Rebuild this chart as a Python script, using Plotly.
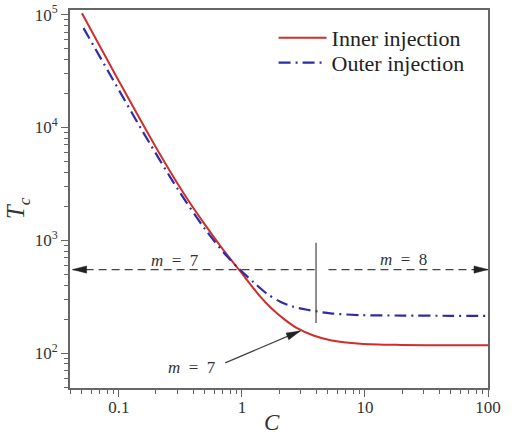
import math
import plotly.graph_objects as go

# ---------------- data ----------------
inner_C = [0.05, 0.1, 0.2, 0.35, 0.5, 0.7, 0.95, 1.41, 1.70, 2.2, 2.81, 3.81, 5.25, 9.2, 19.5, 50, 100]
inner_T = [103000, 25740, 6660, 2430, 1375, 830, 545, 316, 255, 200, 166, 143, 130, 121, 118, 117, 117]

outer_C = [0.0515, 0.1, 0.15, 0.3, 0.5, 0.75, 0.97, 1.24, 1.6, 2.05, 2.6, 3.39, 5.25, 9.2, 20, 50, 100]
outer_T = [76000, 21420, 9910, 2846, 1257, 727, 545, 425, 335, 285, 258, 242, 225, 217, 215, 214, 214]

# boundary between m = 7 and m = 8
boundary_T = 550
boundary_C_left = 0.042
boundary_gap = [3.96, 5.05]
boundary_C_right = 100
vline_C = 4.0
vline_T = [185, 950]

# arrow pointing to inner curve (m = 7)
arrow_tail = (0.731, 82)
arrow_tip = (2.98, 157)

# labels
label_m7_left = (0.286, 668)
label_m8 = (20.6, 682)
label_m7_low = (0.394, 75)

x_ticks = [0.1, 1, 10, 100]
x_ticktext = ["0.1", "1", "10", "100"]
y_ticks = [100, 1000, 10000, 100000]
y_ticktext = ["10<sup>2</sup>", "10<sup>3</sup>", "10<sup>4</sup>", "10<sup>5</sup>"]
x_minor = [m * 10 ** k for k in (-2, -1, 0, 1) for m in range(2, 10)]
y_minor = [m * 10 ** k for k in (1, 2, 3, 4) for m in range(2, 10)]

x_range = [math.log10(0.04), 2]
y_range = [math.log10(49), math.log10(110000)]

# ---------------- layout geometry / style ----------------
W, H = 514, 435
ML, MR, MT, MB = 70, 26, 10, 47
SERIF = "Liberation Serif, Times New Roman, serif"
RED = "rgb(208,45,45)"
BLUE = "rgb(45,45,165)"
DARK = "#444444"
AXIS = "#666666"
TXT = "#333333"

fig = go.Figure()

fig.add_trace(go.Scatter(
    x=inner_C, y=inner_T, mode="lines", name="Inner injection", legend="legend",
    line=dict(color=RED, width=2, shape="spline", smoothing=0.8)))
fig.add_trace(go.Scatter(
    x=outer_C, y=outer_T, mode="lines", name="Outer injection", legend="legend2",
    line=dict(color=BLUE, width=2.2, dash="12px,5px,2px,5px", shape="spline", smoothing=0.8)))

# dashed boundary line with a gap at the vertical marker
fig.add_trace(go.Scatter(
    x=[boundary_C_left, boundary_gap[0], None, boundary_gap[1], boundary_C_right],
    y=[boundary_T, boundary_T, None, boundary_T, boundary_T],
    mode="lines", showlegend=False, hoverinfo="skip",
    line=dict(color=DARK, width=1.3, dash="8px,5px")))
fig.add_trace(go.Scatter(
    x=[vline_C, vline_C], y=vline_T, mode="lines", showlegend=False, hoverinfo="skip",
    line=dict(color=DARK, width=1.2)))
fig.add_trace(go.Scatter(
    x=[arrow_tail[0], arrow_tip[0]], y=[arrow_tail[1], arrow_tip[1]],
    mode="lines", showlegend=False, hoverinfo="skip",
    line=dict(color=DARK, width=1.3)))

# arrow heads as pixel-sized paths anchored at data points
def head_path(angle, length=14, half=3.6):
    ca, sa = math.cos(angle), math.sin(angle)
    bx, by = -length * ca, -length * sa
    nx, ny = -sa * half, ca * half
    return f"M0,0 L{bx + nx:.2f},{by + ny:.2f} L{bx - nx:.2f},{by - ny:.2f} Z"

kx = (W - ML - MR) / (x_range[1] - x_range[0])
ky = (H - MT - MB) / (y_range[1] - y_range[0])
diag_angle = math.atan2((math.log10(arrow_tip[1]) - math.log10(arrow_tail[1])) * ky,
                        (math.log10(arrow_tip[0]) - math.log10(arrow_tail[0])) * kx)

heads = [
    (boundary_C_left, boundary_T, math.pi),
    (boundary_C_right, boundary_T, 0.0),
    (arrow_tip[0], arrow_tip[1], diag_angle),
]
for hx, hy, ang in heads:
    fig.add_shape(type="path", xref="x", yref="y", xsizemode="pixel", ysizemode="pixel",
                  xanchor=hx, yanchor=hy, path=head_path(ang),
                  fillcolor="#222222", line=dict(color="#222222", width=0.5))

def ann(pos, text):
    return dict(x=math.log10(pos[0]), y=math.log10(pos[1]), xref="x", yref="y",
                text=text, showarrow=False,
                font=dict(family=SERIF, size=17, color=TXT))

fig.update_layout(annotations=[
    ann(label_m7_left, "<i>m</i>  =  7"),
    ann(label_m8, "<i>m</i>  =  8"),
    ann(label_m7_low, "<i>m</i>  =  7"),
    # axis titles
    dict(x=0.483, y=-0.092, xref="paper", yref="paper", text="<i>C</i>", showarrow=False,
         font=dict(family=SERIF, size=23, color=TXT), xanchor="center", yanchor="middle"),
    dict(x=-0.125, y=0.475, xref="paper", yref="paper", text="<i>T<sub>c</sub></i>",
         showarrow=False, textangle=-90,
         font=dict(family=SERIF, size=25, color=TXT), xanchor="center", yanchor="middle"),
])

axis_common = dict(
    type="log", showgrid=False, zeroline=False, showline=True, linecolor=AXIS, linewidth=1.6,
    mirror=True, ticks="outside", ticklen=7, tickwidth=1.3, tickcolor=AXIS, automargin=False,
    tickfont=dict(family=SERIF, size=17, color=TXT), tickmode="array",
)
fig.update_xaxes(**axis_common, range=x_range, tickvals=x_ticks, ticktext=x_ticktext,
                 ticklabelstandoff=-4,
                 minor=dict(tickmode="array", tickvals=x_minor, ticks="outside", ticklen=4,
                            tickwidth=1.1, tickcolor=AXIS, showgrid=False))
fig.update_yaxes(**axis_common, range=y_range, tickvals=y_ticks, ticktext=y_ticktext,
                 minor=dict(tickmode="array", tickvals=y_minor, ticks="outside", ticklen=4,
                            tickwidth=1.1, tickcolor=AXIS, showgrid=False))

legend_common = dict(xanchor="left", yanchor="middle", bgcolor="rgba(0,0,0,0)",
                     font=dict(family=SERIF, size=22, color="#222222"), itemwidth=48)
fig.update_layout(
    width=W, height=H, margin=dict(l=ML, r=MR, t=MT, b=MB, pad=0, autoexpand=False),
    paper_bgcolor="white", plot_bgcolor="white", hovermode=False,
    legend=dict(x=0.487, y=0.926, **legend_common),
    legend2=dict(x=0.487, y=0.860, **legend_common),
)

fig.write_html("out.html")
